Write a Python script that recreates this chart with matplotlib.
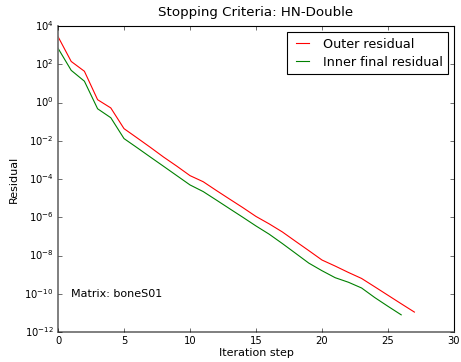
import numpy as np
import matplotlib
matplotlib.use('Agg')
import matplotlib.pyplot as plt

plt.style.use('classic')

# residual histories
outer_res = [2.8e3, 1.4e2, 4.3e1, 1.4, 5.2e-1, 4.3e-2, 1.4e-2, 4.5e-3, 1.4e-3, 4.7e-4,
             1.5e-4, 7.2e-5, 2.5e-5, 8.9e-6, 3.2e-6, 1.1e-6, 4.5e-7, 1.7e-7, 5.5e-8, 1.8e-8,
             5.8e-9, 2.8e-9, 1.3e-9, 6.3e-10, 2.3e-10, 8.3e-11, 3.0e-11, 1.1e-11]
inner_res = [6.9e2, 4.8e1, 1.3e1, 4.7e-1, 1.6e-1, 1.3e-2, 4.3e-3, 1.4e-3, 4.6e-4, 1.5e-4,
             4.9e-5, 2.2e-5, 7.9e-6, 2.8e-6, 1.0e-6, 3.5e-7, 1.3e-7, 4.2e-8, 1.3e-8, 4.0e-9,
             1.6e-9, 6.9e-10, 4.0e-10, 2.0e-10, 6.3e-11, 2.2e-11, 7.9e-12]
outer_it = np.arange(len(outer_res))
inner_it = np.arange(len(inner_res))

W, H = 461, 362
fig = plt.figure(figsize=(W/80., H/80.), dpi=80, facecolor='white')
ax = fig.add_axes([58./W, 30./H, 396./W, 306./H])

ax.semilogy(outer_it, outer_res, 'r-', label='Outer residual')
ax.semilogy(inner_it, inner_res, 'g-', label='Inner final residual')

ax.set_xlim(0, 30)
ax.set_ylim(1e-12, 1e4)
ax.set_yticks([10.0**k for k in range(-12, 5, 2)])
ax.minorticks_off()
ax.tick_params(labelsize=9)
for side in ['left', 'bottom']:
    ax.spines[side].set_color('0.45')
    ax.spines[side].set_linewidth(1.6)
ax.set_title('Stopping Criteria: HN-Double', fontsize=12, pad=9)
ax.set_xlabel('Iteration step', fontsize=10, labelpad=1)
ax.set_ylabel('Residual', fontsize=10)
ax.text(1, 1e-10, 'Matrix: boneS01', fontsize=10, va='center')
ax.legend(loc='upper right', fontsize=11.5, handlelength=1.6, labelspacing=0.4)

fig.savefig('out.png', dpi=80, facecolor='white')
